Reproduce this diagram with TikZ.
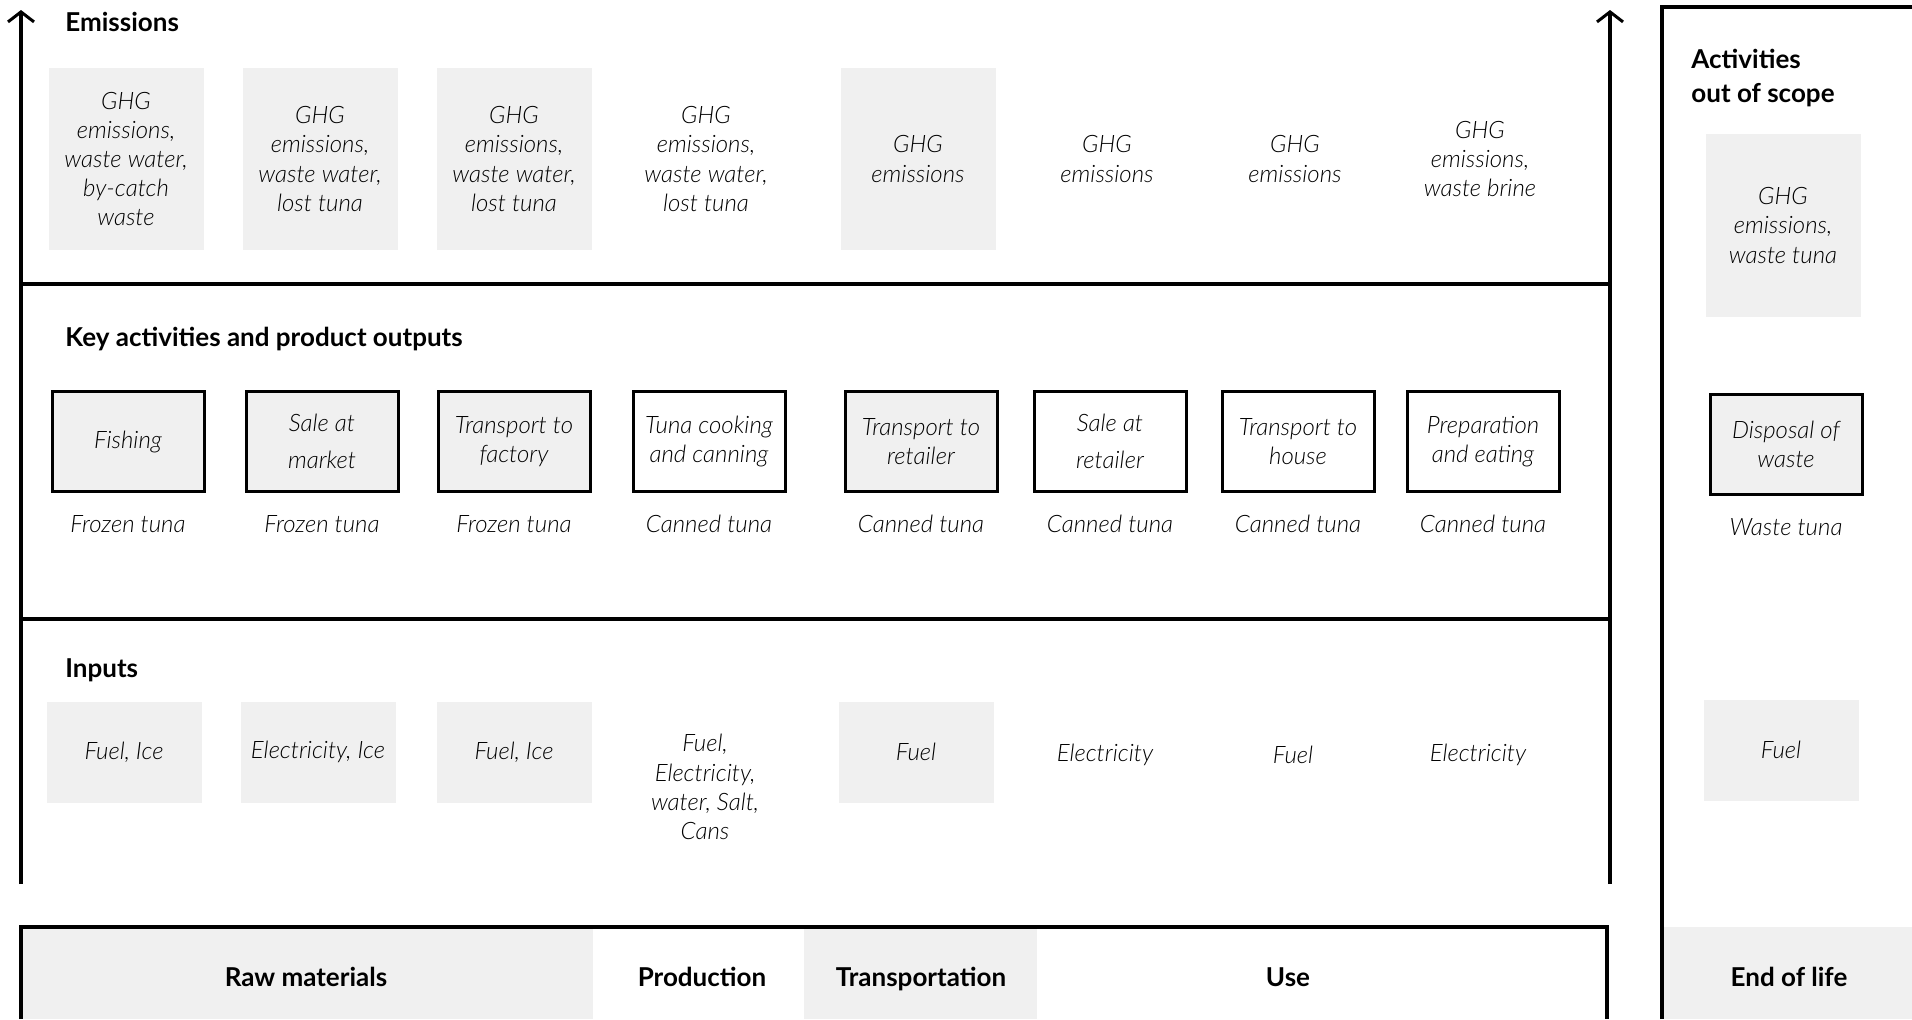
\documentclass[tikz,border=0pt]{standalone}
\usepackage{fontspec}
\setmainfont{Lato}[ItalicFont={Lato Light Italic}]
\usetikzlibrary{arrows.meta}
\definecolor{boxgray}{RGB}{240,240,240}
\begin{document}
\begin{tikzpicture}[x=0.5pt,y=-0.5pt,
  txt/.style={font=\itshape\fontsize{12}{14.6}\selectfont, align=center, inner sep=0pt, text=black},
  heading/.style={font=\bfseries\fontsize{13}{16.5}\selectfont, anchor=base west, align=left, inner sep=0pt},
  barlabel/.style={font=\bfseries\fontsize{13}{16}\selectfont, inner sep=0pt, anchor=base},
  embox/.style={txt, fill=boxgray, minimum width=77.5pt, minimum height=91pt},
  emtxt/.style={txt},
  actbox/.style={txt, draw=black, line width=1.5pt, minimum width=76pt, minimum height=50pt},
  actgray/.style={actbox, fill=boxgray},
  inbox/.style={txt, fill=boxgray, minimum width=77.5pt, minimum height=50.5pt},
  frame/.style={line width=1.6pt, black},
  axis/.style={frame, -{Straight Barb[length=5pt,width=13pt,line width=1.5pt]}}
]
\useasboundingbox (0,0) rectangle (1912,1019);

% bottom bar fills
\fill[boxgray] (21,927) rectangle (593,1019);
\fill[boxgray] (804,927) rectangle (1037,1019);
\fill[boxgray] (1663,927) rectangle (1912,1019);

% frame lines
\coordinate (lb) at (21,884);
\coordinate (lt) at (21,10);
\coordinate (rb) at (1610,884);
\coordinate (rt) at (1610,10);
\draw[axis] (lb) -- (lt);
\draw[axis] (rb) -- (rt);
\coordinate (h1l) at (21,284);
\coordinate (h1r) at (1610,284);
\coordinate (h2l) at (21,619);
\coordinate (h2r) at (1610,619);
\draw[frame] (h1l) -- (h1r);
\draw[frame] (h2l) -- (h2r);
\coordinate (b1) at (21,1019);
\coordinate (b2) at (21,927);
\coordinate (b3) at (1607,927);
\coordinate (b4) at (1607,1019);
\draw[frame] (b1) -- (b2) -- (b3) -- (b4);
\coordinate (p1) at (1662,1019);
\coordinate (p2) at (1662,7);
\coordinate (p3) at (1912,7);
\draw[frame] (p1) -- (p2) -- (p3);

% headings
\node[heading] (hEm) at (65,31) {Emissions};
\node[heading] (hKey) at (65,346) {Key activities and product outputs};
\node[heading] (hIn) at (65,677) {Inputs};
\node[heading, anchor=north west] (hOut) at (1691,49) {Activities\\[0.5pt]out of scope};

% emissions
\node[embox] (e1) at (126,159) {GHG\\emissions,\\waste water,\\by-catch\\waste};
\node[embox] (e2) at (320,159) {GHG\\emissions,\\waste water,\\lost tuna};
\node[embox] (e3) at (514,159) {GHG\\emissions,\\waste water,\\lost tuna};
\node[emtxt] (e4) at (706,159) {GHG\\emissions,\\waste water,\\lost tuna};
\node[embox] (e5) at (918,159) {GHG\\emissions};
\node[emtxt] (e6) at (1107,159) {GHG\\emissions};
\node[emtxt] (e7) at (1295,159) {GHG\\emissions};
\node[emtxt] (e8) at (1480,159) {GHG\\emissions,\\waste brine};
\node[embox, minimum height=91.5pt] (e9) at (1783,225.5) {GHG\\emissions,\\waste tuna};

% activities
\node[actgray] (a1) at (128,441.5) {Fishing};
\node[actgray] (a2) at (322,441.5) {Sale at\\[4pt]market};
\node[actgray] (a3) at (514,441.5) {Transport to\\factory};
\node[actbox] (a4) at (709,441.5) {Tuna cooking\\and canning};
\node[actgray] (a5) at (921,441.5) {Transport to\\retailer};
\node[actbox] (a6) at (1110,441.5) {Sale at\\[4pt]retailer};
\node[actbox] (a7) at (1298,441.5) {Transport to\\house};
\node[actbox] (a8) at (1483,441.5) {Preparation\\and eating};
\node[actgray] (a9) at (1786,444) {Disposal of\\waste};

% products
\node[txt] (o1) at (128,524) {Frozen tuna};
\node[txt] (o2) at (322,524) {Frozen tuna};
\node[txt] (o3) at (514,524) {Frozen tuna};
\node[txt] (o4) at (709,524) {Canned tuna};
\node[txt] (o5) at (921,524) {Canned tuna};
\node[txt] (o6) at (1110,524) {Canned tuna};
\node[txt] (o7) at (1298,524) {Canned tuna};
\node[txt] (o8) at (1483,524) {Canned tuna};
\node[txt] (o9) at (1786,527) {Waste tuna};

% inputs
\node[inbox] (i1) at (124,752) {Fuel, Ice};
\node[inbox] (i2) at (318,752) {Electricity, Ice};
\node[inbox] (i3) at (514,752) {Fuel, Ice};
\node[txt] (i4) at (705,787) {Fuel,\\Electricity,\\water, Salt,\\Cans};
\node[inbox] (i5) at (916,752) {Fuel};
\node[txt] (i6) at (1105,755) {Electricity};
\node[txt] (i7) at (1293,755) {Fuel};
\node[txt] (i8) at (1478,755) {Electricity};
\node[inbox] (i9) at (1781,750) {Fuel};

% bottom bar labels
\node[barlabel] (s1) at (306,986) {Raw materials};
\node[barlabel] (s2) at (702,986) {Production};
\node[barlabel] (s3) at (921,986) {Transportation};
\node[barlabel] (s4) at (1288,986) {Use};
\node[barlabel] (s5) at (1789,986) {End of life};
\end{tikzpicture}
\end{document}
